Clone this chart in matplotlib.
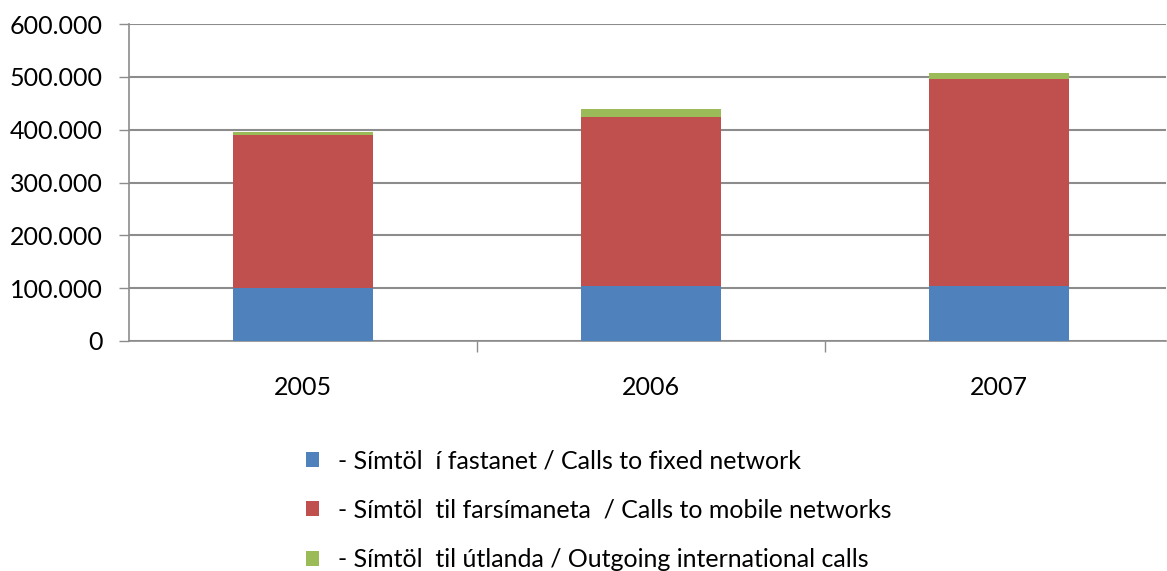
import numpy as np
import matplotlib.pyplot as plt
from matplotlib.patches import Patch

years = ["2005", "2006", "2007"]
fixed = [100000, 104000, 104000]
mobile = [289000, 320000, 391000]
intl = [7000, 16000, 12000]

labels = [
    "- Símtöl  í fastanet / Calls to fixed network",
    "- Símtöl  til farsímaneta  / Calls to mobile networks",
    "- Símtöl  til útlanda / Outgoing international calls",
]
colors = ["#4f81bd", "#c0504d", "#9bbb59"]

plt.rcParams['font.family'] = ['Lato', 'DejaVu Sans']

W, H = 1167, 571
fig = plt.figure(figsize=(W / 100, H / 100), dpi=100)
# axes in pixel coords: left 129, right 1166, top 24, bottom 341
ax = fig.add_axes([129 / W, 1 - 341 / H, (1166 - 129) / W, (341 - 24) / H])

x = np.arange(len(years))
fixed = np.array(fixed)
mobile = np.array(mobile)
intl = np.array(intl)
ax.bar(x, fixed, width=0.4, color=colors[0], zorder=3)
ax.bar(x, mobile, width=0.4, bottom=fixed, color=colors[1], zorder=3)
ax.bar(x, intl, width=0.4, bottom=fixed + mobile, color=colors[2], zorder=3)

ax.set_ylim(0, 600000)
ax.set_xlim(-0.5, 2.48)
ax.set_yticks(np.arange(0, 600001, 100000))
ax.set_yticklabels(["0"] + [f"{v}.000" for v in range(100, 601, 100)])
ax.yaxis.grid(True, color="#8c8c8c", linewidth=1.5, zorder=0)

ax.set_xticks([0.5, 1.5])
ax.set_xticklabels([])
ax.set_xticks(x, minor=True)
ax.set_xticklabels(years, minor=True)
ax.tick_params(axis="x", which="major", length=8, color="#8c8c8c", width=1)
ax.tick_params(axis="x", which="minor", length=0, pad=25, labelsize=18)
ax.tick_params(axis="y", length=7, color="#8c8c8c", width=1, labelsize=18, pad=12)

for s in ["top", "right"]:
    ax.spines[s].set_visible(False)
for s in ["left", "bottom"]:
    ax.spines[s].set_color("#8c8c8c")
    ax.spines[s].set_linewidth(1.2)

handles = [Patch(facecolor=c, edgecolor="none") for c in colors]
fig.legend(handles, labels, loc="upper left", bbox_to_anchor=(283 / W, 1 - 427 / H),
           frameon=False, fontsize=18, handlelength=0.55, handleheight=0.55,
           handletextpad=0.75, labelspacing=1.05)

fig.savefig("out.png", dpi=100)
